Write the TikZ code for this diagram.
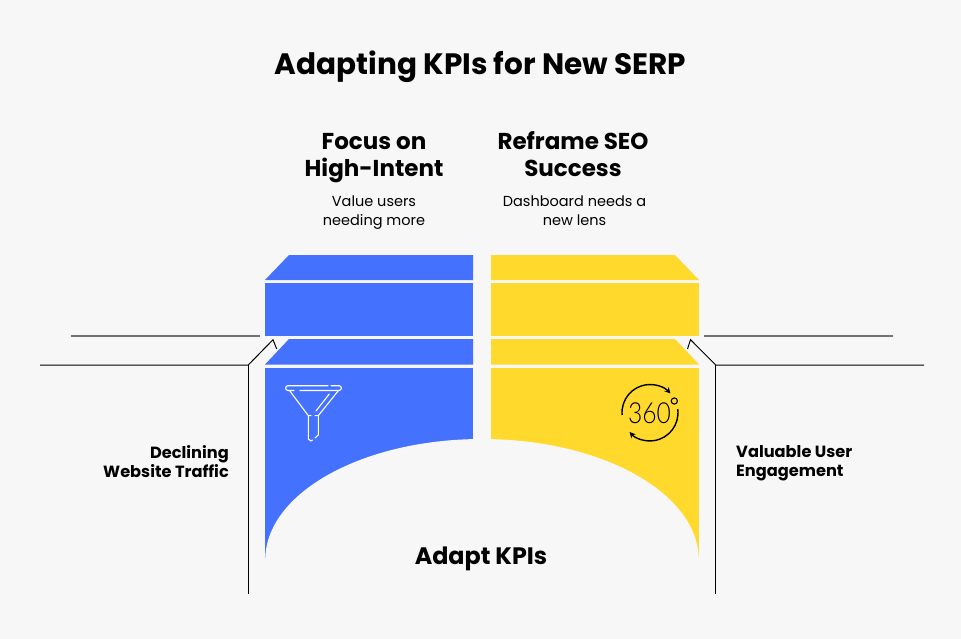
\documentclass[tikz,border=0pt]{standalone}
\usepackage{fontspec}
\setmainfont{Poppins}
\usepackage{xcolor}
\usetikzlibrary{positioning}
\usetikzlibrary{arrows.meta}
\definecolor{pagebg}{HTML}{F7F7F7}
\definecolor{kpiblue}{HTML}{4571FF}
\definecolor{kpiyellow}{HTML}{FFDA2D}
\tikzset{
  titletext/.style={font=\bfseries\fontsize{29.5}{36}\selectfont,text=black,inner sep=0pt},
  headtext/.style={font=\bfseries\fontsize{23}{27}\selectfont,align=center,inner sep=0pt},
  subtext/.style={font=\fontsize{14.5}{19}\selectfont,align=center,inner sep=0pt},
  sidetext/.style={font=\bfseries\fontsize{16.2}{19}\selectfont,inner sep=0pt},
  leader/.style={draw=black,line width=1pt,line join=miter},
  greyline/.style={draw=black!55,line width=1.5pt},
  iconline/.style={draw=white,line width=1.1pt,line cap=round,line join=round},
  ringline/.style={draw=black,line width=1.4pt}
}
\begin{document}
\begin{tikzpicture}[x=1pt,y=-1pt]
   \fill[pagebg] (0,0) rectangle (961,639);
   \useasboundingbox (0,0) rectangle (961,639);
   % blue column
   \fill[kpiblue] (289,255) -- (473,255) -- (473,280) -- (265,280) -- cycle;
   \fill[kpiblue] (265,283) rectangle (473,336);
   \fill[kpiblue] (289,339) -- (473,339) -- (473,364.5) -- (265,364.5) -- cycle;
   \fill[kpiblue] (265,368) rectangle (473,560);
   % yellow column
   \fill[kpiyellow] (491,255) -- (675,255) -- (699,280) -- (491,280) -- cycle;
   \fill[kpiyellow] (491,283) rectangle (699,336);
   \fill[kpiyellow] (491,339) -- (675,339) -- (699,364.5) -- (491,364.5) -- cycle;
   \fill[kpiyellow] (491,368) rectangle (699,560);
   % dome
   \fill[pagebg] (482,560) ellipse [x radius=216.8, y radius=121];
   % funnel
   \draw[iconline] (294,390.5) -- (288,390.5) arc [start angle=90, end angle=270, radius=2.4] -- (328,385.7);
   \draw[iconline] (331,385.7) -- (339,385.7) arc [start angle=270, end angle=450, radius=2.4] -- (300,390.5);
   \draw[iconline] (289.5,390.5) -- (308.3,415.6) -- (311,415.6);
   \draw[iconline] (338.5,390.5) -- (318.3,415.6) -- (315,415.6);
   \draw[iconline] (329.3,394) -- (316,411);
   \draw[iconline] (308.3,415.6) -- (308.3,439) -- (311,441) -- (312.5,440);
   \draw[iconline] (318.3,415.6) -- (318.3,435) -- (315,438);
   % 360 ring
   \draw[ringline,-{Stealth[length=6pt,width=6pt]}] (622.1,415) arc [start angle=-185, end angle=-43, radius=28];
   \draw[ringline,-{Stealth[length=6pt,width=6pt]}] (677.7,409) arc [start angle=-8, end angle=137, radius=28];
   \draw[black,line width=1.1pt] (674.3,401) circle (3.1);
   \node[inner sep=0pt,xscale=.85] (ringtext) at (649.5,413.5) {\fontspec{Lato Light}\fontsize{29}{29}\selectfont 360};
   % leaders
   \coordinate (lgreya) at (71,336);
   \coordinate (lgreyb) at (260,336);
   \coordinate (rgreya) at (704,336);
   \coordinate (rgreyb) at (893,336);
   \draw[greyline] (lgreya) -- (lgreyb);
   \draw[greyline] (rgreya) -- (rgreyb);
   \coordinate (lstart) at (40,365);
   \coordinate (lelbow) at (248.3,365);
   \coordinate (ltip) at (273,339.7);
   \coordinate (lback) at (276.7,349);
   \coordinate (lfoot) at (248.3,594);
   \coordinate (rstart) at (924,365);
   \coordinate (relbow) at (715.7,365);
   \coordinate (rtip) at (690.5,339.7);
   \coordinate (rback) at (687.5,349);
   \coordinate (rfoot) at (715.7,594);
   \draw[leader] (lstart) -- (lelbow) -- (ltip) -- (lback);
   \draw[leader] (lelbow) -- (lfoot);
   \draw[leader] (rstart) -- (relbow) -- (rtip) -- (rback);
   \draw[leader] (relbow) -- (rfoot);
   % labels
   \node[titletext] (title) at (480.5,67) {Adapting KPIs for New SERP};
   \node[headtext] (focus) at (374,158) {Focus on\\High-Intent};
   \node[headtext] (reframe) at (573,154.5) {Reframe SEO\\Success};
   \node[subtext] (focusnote) at (374,212.5) {Value users\\needing more};
   \node[subtext] (reframenote) at (574.5,210.5) {Dashboard needs a\\new lens};
   \node[sidetext,align=right,anchor=east] (traffic) at (229,461.5) {Declining\\Website Traffic};
   \node[sidetext,align=left,anchor=west] (engage) at (736,463.5) {Valuable User\\Engagement};
   \node[headtext,font=\bfseries\fontsize{23.8}{27}\selectfont] (adapt) at (481,559) {Adapt KPIs};
\end{tikzpicture}
\end{document}
